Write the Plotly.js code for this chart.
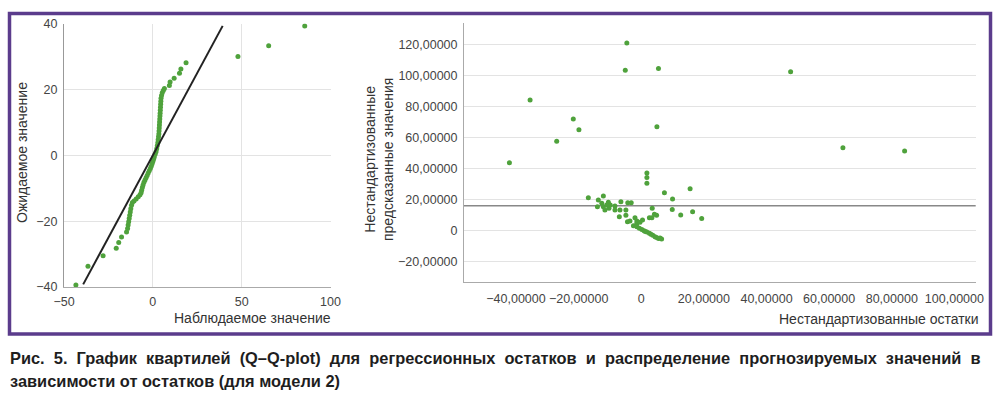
<!DOCTYPE html>
<html>
<head>
<meta charset="utf-8">
<script src="https://cdn.plot.ly/plotly-3.0.1.min.js"></script>
<style>
html,body{margin:0;padding:0;background:#fff;}
#chart{width:1001px;height:399px;}
</style>
</head>
<body>
<div id="chart"></div>
<script>
// ---- Left panel: Q-Q plot ----
const qqObserved = [-43.3,-36.5,-28.0,-20.6,-19.2,-17.6,-14.8,-14.2,-13.9,-13.6,-13.3,-13.0,-12.7,-12.4,-12.0,-11.5,-10.6,-9.4,-8.2,-7.2,-6.6,-6.3,-5.9,-5.5,-5.0,-4.4,-3.8,-3.2,-2.6,-2.0,-1.4,-0.9,-0.4,0.0,0.4,0.8,1.3,1.8,2.2,2.5,2.8,3.0,3.2,3.4,3.5,3.6,3.7,3.8,3.9,4.0,4.1,4.2,4.3,4.4,4.5,4.6,4.9,5.3,5.9,6.5,9.3,9.7,12.0,15.0,15.8,18.7,47.9,65.2,85.5];
const qqExpected = [-39.4,-33.7,-30.5,-28.2,-26.5,-24.8,-23.3,-22.2,-21.2,-20.2,-19.2,-18.2,-17.2,-16.2,-15.2,-14.3,-13.9,-13.3,-12.6,-12.0,-11.4,-10.6,-9.8,-9.0,-8.2,-7.5,-6.8,-6.1,-5.4,-4.7,-4.0,-3.3,-2.6,-1.9,-1.2,-0.5,0.3,1.1,2.0,2.9,3.8,4.7,5.6,6.5,7.4,8.3,9.2,10.1,11.0,11.9,12.8,13.7,14.6,15.5,16.4,17.3,18.2,19.0,19.7,20.3,21.2,22.3,23.4,24.9,26.2,28.1,30.0,33.3,39.3];
const refLineX = [-39.2, 39.3];
const refLineY = [-39.2, 39.3];
const qqXTicks = [-50, 0, 50, 100];
const qqYTicks = [-40, -20, 0, 20, 40];

// ---- Right panel: residuals vs predicted ----
const residuals = [-4.6,-5.1,5.5,-35.5,-21.7,-19.9,-27.0,-42.1,5.0,1.8,1.8,1.8,47.7,64.4,84.1,
  -16.9,-13.7,-12.1,-12.6,-14.0,-12.1,-10.5,-11.0,-11.6,-10.3,-9.9,-8.4,-8.4,-6.5,-6.8,-4.9,-4.3,-3.2,
  -7.0,-4.9,-4.4,-3.6,-2.0,-1.4,-1.4,0.4,-0.4,-2.5,-1.4,-0.6,0.2,0.9,1.3,1.8,2.6,3.1,3.7,4.4,4.9,5.5,6.5,6.0,
  2.6,3.4,3.5,4.2,4.9,7.4,10.0,9.9,12.6,15.6,16.4,19.3];
const predicted = [120.8,103.2,104.3,84.1,71.8,64.9,57.4,43.6,66.8,37.0,34.0,30.3,102.3,53.3,51.2,
  21.0,19.5,22.1,17.4,15.2,15.2,18.1,16.3,13.1,14.2,16.3,15.7,13.1,18.5,13.1,13.1,17.8,17.8,
  8.8,9.7,5.6,6.0,8.1,6.0,4.5,6.6,5.2,3.0,2.3,1.3,0.6,-0.3,-0.7,-1.1,-1.9,-2.5,-3.2,-4.1,-4.6,-5.2,-5.6,-4.9,
  8.1,8.1,14.2,10.3,9.7,24.3,20.2,13.5,9.9,26.8,12.0,7.7];
const meanPredicted = 15.9;
const resXTickVals = [-40, -20, 0, 20, 40, 60, 80, 100];
const resXTickText = ["−40,00000","−20,00000","0","20,00000","40,00000","60,00000","80,00000","100,00000"];
const resYTickVals = [-20, 0, 20, 40, 60, 80, 100, 120];
const resYTickText = ["−20,00000","0","20,00000","40,00000","60,00000","80,00000","100,00000","120,00000"];

const captionLine1 = "Рис. 5. График квартилей (Q–Q-plot) для регрессионных остатков и распределение прогнозируемых значений в";
const captionLine2 = "зависимости от остатков (для модели 2)";

const W = 1001, H = 399;
const px = v => v / W;
const py = v => 1 - v / H;

const green = "#4fa23c";
const tickFont = {family: "Liberation Sans, Arial, sans-serif", size: 12.5, color: "#444"};
const titleFont = {family: "Liberation Sans, Arial, sans-serif", size: 14, color: "#333"};
const captionFont = {family: "Liberation Sans, Arial, sans-serif", size: 16.4, color: "#1e1e1e"};
// justified first caption line: widen word gaps
const justify = s => s.split(" ").join("\u00A0 ");

const traces = [
  {x: qqObserved, y: qqExpected, type: "scatter", mode: "markers", xaxis: "x", yaxis: "y",
   marker: {color: green, size: 5}},
  {x: refLineX, y: refLineY, type: "scatter", mode: "lines", xaxis: "x", yaxis: "y",
   line: {color: "#222", width: 2}},
  {x: residuals, y: predicted, type: "scatter", mode: "markers", xaxis: "x2", yaxis: "y2",
   marker: {color: green, size: 5}}
];

const layout = {
  width: W, height: H,
  margin: {l: 0, r: 0, t: 0, b: 0},
  paper_bgcolor: "#fff", plot_bgcolor: "#fff",
  showlegend: false,
  xaxis: {
    domain: [px(64), px(330.5)], range: [-50, 100], tickvals: qqXTicks,
    showgrid: true, gridcolor: "#e3e3e3", zeroline: false,
    showline: true, linecolor: "#aaa", linewidth: 1,
    ticks: "outside", ticklen: 3, tickcolor: "rgba(0,0,0,0)",
    tickfont: tickFont, anchor: "y"
  },
  yaxis: {
    domain: [py(287), py(23.6)], range: [-40, 40], tickvals: qqYTicks,
    showgrid: true, gridcolor: "#e3e3e3", zeroline: false,
    showline: true, linecolor: "#999", linewidth: 1,
    ticks: "outside", ticklen: 3, tickcolor: "rgba(0,0,0,0)",
    tickfont: tickFont, anchor: "x"
  },
  xaxis2: {
    domain: [px(464), px(975.7)], range: [-56.6, 106.8],
    tickvals: resXTickVals, ticktext: resXTickText,
    showgrid: false, zeroline: false,
    showline: true, linecolor: "#aaa", linewidth: 1,
    ticks: "outside", ticklen: 5, tickcolor: "rgba(0,0,0,0)",
    tickfont: tickFont, anchor: "y2"
  },
  yaxis2: {
    domain: [py(282.3), py(23)], range: [-33.5, 133.7],
    tickvals: resYTickVals, ticktext: resYTickText,
    showgrid: true, gridcolor: "#e3e3e3", zeroline: false,
    showline: true, linecolor: "#aaa", linewidth: 1,
    ticks: "outside", ticklen: 3, tickcolor: "rgba(0,0,0,0)",
    tickfont: tickFont, anchor: "x2"
  },
  shapes: [
    {type: "line", xref: "x2 domain", yref: "y2", x0: 0, x1: 1, y0: meanPredicted, y1: meanPredicted,
     line: {color: "#888", width: 1.5}, layer: "below"},
    {type: "rect", xref: "paper", yref: "paper", x0: px(9.5), x1: px(990.5), y0: py(13.5), y1: py(334),
     line: {color: "#5b3c8c", width: 3.5}, fillcolor: "rgba(0,0,0,0)"}
  ],
  annotations: [
    {text: "Ожидаемое значение", xref: "paper", yref: "paper", x: px(22), y: py(153),
     xanchor: "center", yanchor: "middle", textangle: -90, showarrow: false, font: titleFont},
    {text: "Наблюдаемое значение", xref: "paper", yref: "paper", x: px(333), y: py(318),
     xanchor: "right", yanchor: "middle", showarrow: false, font: titleFont},
    {text: "Нестандартизованные<br>предсказанные значения", xref: "paper", yref: "paper", x: px(379), y: py(160),
     xanchor: "center", yanchor: "middle", textangle: -90, showarrow: false, font: titleFont},
    {text: "Нестандартизованные остатки", xref: "paper", yref: "paper", x: px(981), y: py(319),
     xanchor: "right", yanchor: "middle", showarrow: false, font: titleFont},
    {text: "<b>" + justify(captionLine1) + "</b>", xref: "paper", yref: "paper", x: px(8), y: py(358),
     xanchor: "left", yanchor: "middle", showarrow: false, font: captionFont},
    {text: "<b>" + captionLine2 + "</b>", xref: "paper", yref: "paper", x: px(8), y: py(381),
     xanchor: "left", yanchor: "middle", showarrow: false, font: captionFont}
  ]
};

Plotly.newPlot("chart", traces, layout, {staticPlot: true, displayModeBar: false});
</script>
</body>
</html>
